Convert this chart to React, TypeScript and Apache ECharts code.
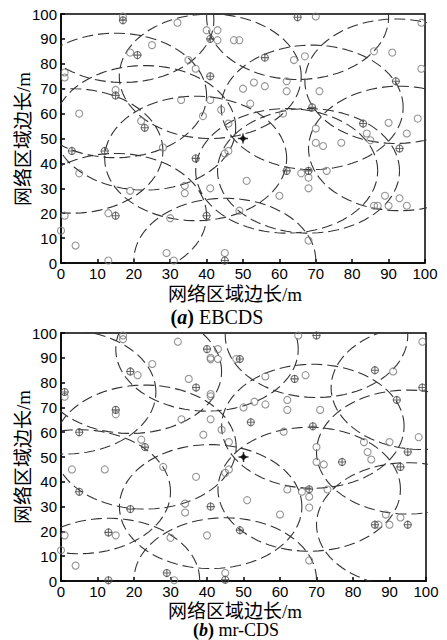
import React, { useEffect, useRef } from "react";
import * as echarts from "echarts";

// ---- data (m) ----
const ebcdsNodes: [number, number][] = [
  [17, 99], [32, 96.5], [70, 99], [99, 96.5], [40, 93.5], [43, 93.5], [43, 89.5], [47.5, 89.5], [49, 89.5],
  [19, 84.5], [25, 87.5], [35, 81.5], [37, 78], [64, 81.5], [67, 83], [86, 85], [91, 84.5], [99, 78],
  [1, 76.5], [1, 74.5], [62, 73], [50, 70], [53, 72.5], [56, 71], [62, 69], [71, 69], [15, 69.5], [5, 60],
  [33, 65.5], [41, 65.5], [44, 61.5], [52, 64], [39, 59], [61, 60], [46, 56], [22, 57], [90, 56.3], [98, 58],
  [70, 54], [84, 52], [95, 52], [70, 48.3], [72, 47], [77, 48.3], [85, 49.3], [28, 46.4], [45, 44], [46, 45],
  [5, 36], [19, 29], [34, 31], [34, 28], [41, 30], [51, 33], [66, 36], [68, 34.3], [68, 30], [73, 37],
  [60, 27], [49, 21], [30, 18], [13, 20], [1, 19], [0, 13], [4, 7], [13, 1], [29, 4], [31, 1], [45, 4],
  [68, 9], [89, 27], [86, 23], [87, 23], [90, 23], [93, 26], [95, 23],
];
const ebcdsBackbone: [number, number][] = [
  [17, 97.5], [65, 98.7], [41, 90], [21, 83.5], [41, 75], [56, 82.5], [92, 73], [15, 67.3], [69, 62.5],
  [23, 54.3], [83, 56], [93, 46], [3, 45], [12, 45], [37, 42], [62, 37], [68, 37], [40, 19], [15, 19], [45, 1],
];
const ebcdsRangeCenters: [number, number][] = [
  [17, 97.5], [65, 98.7], [41, 75], [15, 67.3], [69, 62.5], [92, 73], [93, 46], [3, 45], [37, 42],
  [62, 37], [68, 37], [45, 1], [23, 54.3], [15, 19],
];

const mrNodes: [number, number][] = [
  [17, 99], [17, 97.5], [32, 96.5], [65, 99], [99, 96.5], [43, 93.5], [41, 90], [41, 89.4], [43, 89.5],
  [48, 89.5], [21, 83], [25, 87.5], [35, 81.5], [41, 75.4], [41, 74.5], [56, 82.5], [67, 83], [91, 84.5],
  [1, 74.3], [62, 73], [50, 70], [53, 72.3], [56, 71.2], [62, 69], [71, 69], [15, 67.2], [33, 65.2],
  [41, 65.2], [44, 61], [39, 59], [61, 60.2], [46, 56], [22, 57], [83, 56], [90, 56], [98, 58], [70, 54],
  [84, 52], [70, 48], [72, 47], [85, 49], [3, 45], [12, 45], [28, 46], [45, 43.6], [46, 45], [37, 42],
  [34, 31.2], [34, 27.6], [51, 32.6], [62, 36.9], [66, 36], [68, 34], [68, 29.6], [73, 36.9], [60, 26.8],
  [40, 18.4], [30, 17.4], [15, 18.4], [1, 18.4], [0, 12.4], [4, 6.2], [31, 0.3], [45, 3.2], [68, 8.3],
  [89, 26.8], [87, 22.7], [90, 22.7], [93, 25.6],
];
const mrBackbone: [number, number][] = [
  [70, 99], [40, 93.5], [49, 89.5], [19, 84.5], [37, 78], [64, 81.5], [86, 85], [99, 78], [1, 76.2],
  [92, 73], [15, 69], [5, 60], [52, 64], [69, 62.4], [23, 54], [95, 52], [77, 48], [93, 46], [5, 36],
  [19, 29], [41, 30], [68, 37], [49, 20.5], [13, 19.6], [13, 0.3], [29, 3.2], [45, 0.5], [86, 22.7], [95, 22.7],
];
const mrRangeCenters: [number, number][] = [
  [70, 99], [40, 93.5], [99, 78], [1, 76.2], [23, 54], [95, 52], [41, 30], [68, 37], [13, 0.3],
  [45, 0.5], [5, 36], [95, 22.7], [69, 62.4], [19, 84.5],
];

const sink: [number, number][] = [[50, 50]];
const RANGE = 25; // communication radius (m)
const axisTicks = { min: 0, max: 100, interval: 10 };
const axisName = "网络区域边长/m";
const panelTitles = ["EBCDS", "mr-CDS"];
const panelLetters = ["a", "b"];

function rangeRings(centers: [number, number][]) {
  const out: any[] = [];
  centers.forEach(([cx, cy]) => {
    for (let k = 0; k <= 90; k++) {
      const a = (k * Math.PI * 2) / 90;
      out.push([cx + RANGE * Math.cos(a), cy + RANGE * Math.sin(a)]);
    }
    out.push(["-", "-"]);
  });
  return out;
}

const PLUS = "path://M8.6,0h2.8v8.6h8.6v2.8h-8.6v8.6h-2.8v-8.6h-8.6v-2.8h8.6z";

function panelSeries(i: number, nodes: [number, number][], backbone: [number, number][], centers: [number, number][]) {
  return [
    {
      type: "line",
      xAxisIndex: i,
      yAxisIndex: i,
      data: rangeRings(centers),
      showSymbol: false,
      connectNulls: false,
      clip: true,
      silent: true,
      lineStyle: { color: "#333", width: 1.1, type: [11, 5] },
      z: 1,
    },
    {
      type: "scatter",
      xAxisIndex: i,
      yAxisIndex: i,
      data: nodes,
      symbol: "circle",
      symbolSize: 7,
      itemStyle: { color: "rgba(0,0,0,0)", borderColor: "#7a7a7a", borderWidth: 1.1 },
      z: 3,
    },
    {
      type: "scatter",
      xAxisIndex: i,
      yAxisIndex: i,
      data: backbone,
      symbol: "circle",
      symbolSize: 7,
      itemStyle: { color: "rgba(0,0,0,0)", borderColor: "#555", borderWidth: 1.1 },
      z: 4,
    },
    {
      type: "scatter",
      xAxisIndex: i,
      yAxisIndex: i,
      data: backbone,
      symbol: PLUS,
      symbolSize: 8,
      itemStyle: { color: "#444" },
      z: 5,
    },
    {
      type: "scatter",
      xAxisIndex: i,
      yAxisIndex: i,
      data: sink,
      symbol: "diamond",
      symbolSize: 7,
      itemStyle: { color: "#000" },
      z: 6,
    },
    {
      type: "scatter",
      xAxisIndex: i,
      yAxisIndex: i,
      data: sink,
      symbol: PLUS,
      symbolSize: 10,
      itemStyle: { color: "#000" },
      z: 6,
    },
  ];
}

function axis(i: number, isX: boolean) {
  return {
    type: "value",
    gridIndex: i,
    ...axisTicks,
    axisLine: { show: true, onZero: false, lineStyle: { color: "#000", width: 1.5 } },
    axisTick: { show: true, inside: true, length: 4, lineStyle: { color: "#000", width: 1.5 } },
    axisLabel: {
      color: "#000",
      fontSize: 15,
      fontFamily: "Liberation Sans, Arial, sans-serif",
      margin: isX ? 3 : 4,
    },
    splitLine: { show: false },
  };
}

const CJK = "'Liberation Serif', 'Noto Sans CJK SC', serif";

function titleText(i: number, cx: number, cy: number, fs: number) {
  return {
    type: "text",
    x: cx,
    y: cy,
    style: {
      text: `{b|(}{i|${panelLetters[i]}}{b|)} ${panelTitles[i]}`,
      fontFamily: "Liberation Serif, serif",
      fontSize: fs,
      fill: "#000",
      align: "center",
      verticalAlign: "middle",
      rich: {
        b: { fontFamily: "Liberation Serif, serif", fontSize: fs, fontWeight: "bold", fill: "#000" },
        i: { fontFamily: "Liberation Serif, serif", fontSize: fs, fontWeight: "bold", fontStyle: "italic", fill: "#000" },
      },
    },
  };
}

function nameText(cx: number, cy: number, rotate: boolean) {
  return {
    type: "text",
    x: cx,
    y: cy,
    rotation: rotate ? Math.PI / 2 : 0,
    style: {
      text: axisName,
      fontFamily: CJK,
      fontSize: 19,
      fill: "#000",
      align: "center",
      verticalAlign: "middle",
    },
  };
}

export default function App() {
  const ref = useRef<HTMLDivElement>(null);
  useEffect(() => {
    if (!ref.current) return;
    const chart = echarts.init(ref.current, null, { renderer: "svg" });
    chart.setOption({
      animation: false,
      backgroundColor: "#fff",
      grid: [
        { left: 61, top: 14, width: 364, height: 249, show: true, borderColor: "#000", borderWidth: 1.5, backgroundColor: "transparent" },
        { left: 61, top: 333, width: 365, height: 248, show: true, borderColor: "#000", borderWidth: 1.5, backgroundColor: "transparent" },
      ],
      xAxis: [axis(0, true), axis(1, true)],
      yAxis: [axis(0, false), axis(1, false)],
      series: [
        ...panelSeries(0, ebcdsNodes, ebcdsBackbone, ebcdsRangeCenters),
        ...panelSeries(1, mrNodes, mrBackbone, mrRangeCenters),
      ],
      graphic: [
        nameText(235, 294, false),
        nameText(23, 139, true),
        titleText(0, 217, 317, 20),
        nameText(235, 611, false),
        nameText(23, 457, true),
        titleText(1, 236, 630, 18),
      ],
    });
    return () => chart.dispose();
  }, []);
  return <div ref={ref} style={{ position: "fixed", left: 0, top: 0, width: 447, height: 640 }} />;
}
